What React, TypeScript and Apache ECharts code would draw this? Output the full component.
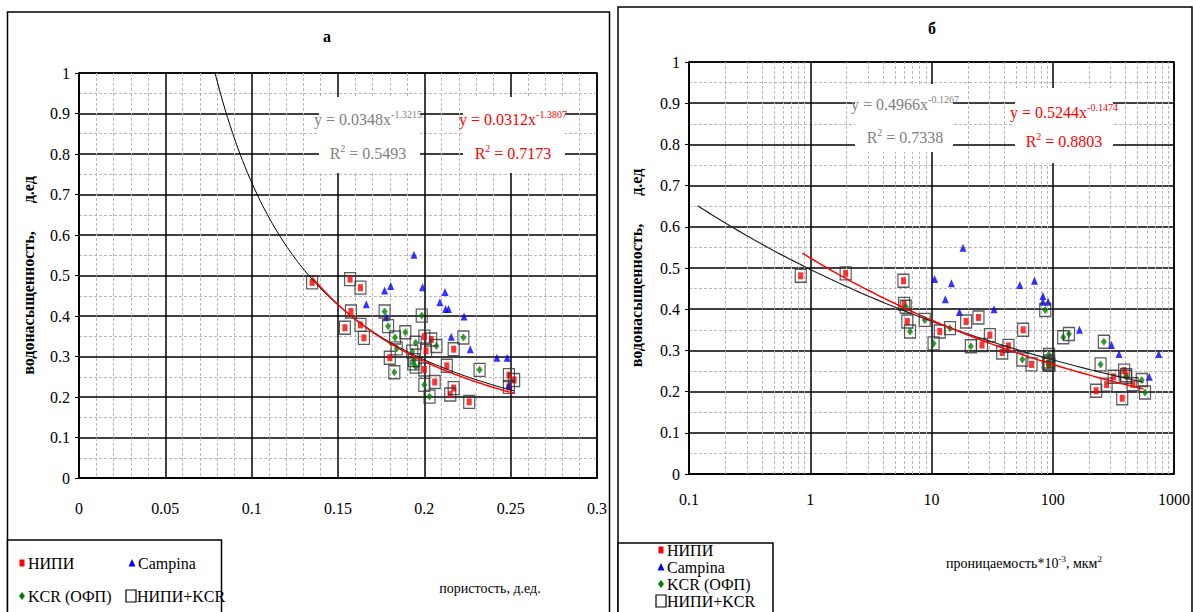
import React, { useEffect, useRef } from "react";
import * as echarts from "echarts";

const FONT = "Liberation Serif";

// ---- Panel "а": porosity (fraction) vs water saturation (fraction)
const nipiA: [number, number][] = [
  [0.135, 0.483], [0.157, 0.491], [0.163, 0.47], [0.1575, 0.411], [0.154, 0.371],
  [0.163, 0.378], [0.165, 0.346], [0.18, 0.297], [0.2, 0.349], [0.204, 0.342],
  [0.201, 0.314], [0.217, 0.318], [0.2, 0.268], [0.213, 0.277], [0.206, 0.237],
  [0.217, 0.222], [0.215, 0.206], [0.226, 0.188], [0.249, 0.254], [0.252, 0.242],
  [0.249, 0.225],
];
const kcrA: [number, number][] = [
  [0.177, 0.411], [0.179, 0.375], [0.189, 0.36], [0.183, 0.347], [0.184, 0.32],
  [0.195, 0.334], [0.1985, 0.401], [0.207, 0.326], [0.2226, 0.347], [0.193, 0.312],
  [0.194, 0.291], [0.195, 0.275], [0.1826, 0.261], [0.2, 0.23], [0.203, 0.201],
  [0.232, 0.267], [0.1936, 0.283],
];
const campinaA: [number, number][] = [
  [0.194, 0.551], [0.177, 0.463], [0.1805, 0.474], [0.1664, 0.429], [0.199, 0.471],
  [0.212, 0.459], [0.209, 0.434], [0.2123, 0.417], [0.214, 0.417], [0.223, 0.399],
  [0.2156, 0.349], [0.2266, 0.318], [0.242, 0.297], [0.248, 0.297], [0.178, 0.397],
  [0.249, 0.23],
];
// trend lines (coefficient a, exponent b, x range) as printed on the chart
const trendAllA = { a: 0.0348, b: -1.3215, from: 0.0788, to: 0.252, r2: "0.5493" };
const trendNkA = { a: 0.0312, b: -1.3807, from: 0.135, to: 0.252, r2: "0.7173" };

// ---- Panel "б": permeability (10^-3 мкм²) vs water saturation (fraction)
const nipiB: [number, number][] = [
  [0.835, 0.481], [1.96, 0.487], [5.87, 0.469], [5.94, 0.413], [6.32, 0.37],
  [19.3, 0.37], [24.4, 0.38], [11.7, 0.346], [30.3, 0.337], [57, 0.35],
  [26.1, 0.313], [43.1, 0.311], [38.3, 0.295], [66.8, 0.266], [92.2, 0.269],
  [228, 0.202], [278, 0.217], [318, 0.236], [388, 0.251], [403, 0.24],
  [456, 0.218], [374, 0.184], [94, 0.265],
];
const kcrB: [number, number][] = [
  [6.13, 0.406], [8.79, 0.374], [6.65, 0.346], [10.4, 0.317], [14.2, 0.354],
  [21.1, 0.31], [56.2, 0.278], [86.7, 0.398], [93.3, 0.289], [92.2, 0.265],
  [122, 0.332], [136, 0.34], [264, 0.321], [248, 0.266], [403, 0.236],
  [542, 0.228], [577, 0.198], [93, 0.273],
];
const campinaB: [number, number][] = [
  [18.2, 0.549], [10.6, 0.473], [14.6, 0.463], [13.0, 0.424], [17.0, 0.393],
  [32.8, 0.4], [53.5, 0.459], [70.7, 0.469], [83, 0.432], [83, 0.418],
  [91.6, 0.418], [166, 0.35], [305, 0.313], [352, 0.291], [748, 0.291],
  [625, 0.236],
];
const trendAllB = { a: 0.4966, b: -0.1267, from: 0.118, to: 560, r2: "0.7338" };
const trendNkB = { a: 0.5244, b: -0.1474, from: 0.86, to: 560, r2: "0.8803" };

const logDecades = [0.1, 1, 10, 100];
const logMultipliers = [2, 3, 4, 5, 6, 7, 8, 9];

const xTicksA = [0, 0.05, 0.1, 0.15, 0.2, 0.25, 0.3];

function powerCurve(t: { a: number; b: number; from: number; to: number }, log: boolean) {
  const n = 120;
  const pts: [number, number][] = [];
  for (let i = 0; i <= n; i++) {
    const x = log
      ? Math.exp(Math.log(t.from) + ((Math.log(t.to) - Math.log(t.from)) * i) / n)
      : t.from + ((t.to - t.from) * i) / n;
    pts.push([x, t.a * Math.pow(x, t.b)]);
  }
  return pts;
}

const gridLine = { show: true, lineStyle: { color: "#000", width: 1.5 } };
const minorLine = { show: true, lineStyle: { color: "#b8b8b8", width: 1, type: [3, 2] as any } };
const axisLbl = { fontFamily: FONT, fontSize: 16, color: "#000" };

function yAxisFor(gridIndex: number, nameGap: number) {
  return {
    gridIndex,
    type: "value",
    min: 0,
    max: 1,
    interval: 0.1,
    axisLine: { show: true, onZero: false, lineStyle: { color: "#000", width: 1.5 } },
    axisTick: { show: true, length: 4, lineStyle: { color: "#000" } },
    axisLabel: { ...axisLbl, margin: 9, formatter: (v: number) => String(+v.toFixed(2)) },
    splitLine: gridLine,
    minorTick: { show: false, splitNumber: 2 },
    minorSplitLine: minorLine,
    name: "водонасыщенность,       д.ед",
    nameLocation: "middle",
    nameGap,
    nameTextStyle: { fontFamily: FONT, fontSize: 16, fontWeight: "bold", color: "#000" },
  };
}

function scatterSeries(name: string, data: [number, number][], idx: number, kind: string) {
  const base: any = { name, type: "scatter", data, xAxisIndex: idx, yAxisIndex: idx, silent: true };
  if (kind === "nipi") return { ...base, symbol: "rect", symbolSize: [5, 7], itemStyle: { color: "#ff0000" }, z: 4 };
  if (kind === "kcr") return { ...base, symbol: "diamond", symbolSize: [6, 8], itemStyle: { color: "#008000" }, z: 4 };
  if (kind === "campina") return { ...base, symbol: "triangle", symbolSize: [7, 8], itemStyle: { color: "#0000ff" }, z: 4 };
  return {
    ...base,
    symbol: "rect",
    symbolSize: [11, 13],
    itemStyle: { color: "rgba(0,0,0,0)", borderColor: "#333", borderWidth: 1.3 },
    z: 5,
  };
}

function trendSeries(name: string, data: [number, number][], idx: number, color: string, width: number) {
  return {
    name,
    type: "line",
    data,
    xAxisIndex: idx,
    yAxisIndex: idx,
    showSymbol: false,
    symbol: "none",
    silent: true,
    clip: true,
    lineStyle: { color, width },
    z: 6,
  };
}

const eqRich = (color: string) => ({
  m: { font: `16px ${FONT}`, fill: color, lineHeight: 18 },
  s: { font: `10px ${FONT}`, fill: color, padding: [0, 0, 9, 0] },
});

function eqLabel(cx: number, y1: number, y2: number, t: { a: number; b: number; r2: string }, color: string, box: number[]) {
  return [
    { type: "rect", z: 20, shape: { x: box[0], y: box[1], width: box[2], height: box[3] }, style: { fill: "#fff" } },
    {
      type: "text", z: 21, x: cx, y: y1,
      style: {
        text: `{m|y = ${t.a.toFixed(4)}x}{s|${t.b.toFixed(4)}}`,
        rich: eqRich(color), fill: color, font: `16px ${FONT}`, align: "center", verticalAlign: "middle",
      },
    },
    {
      type: "text", z: 21, x: cx, y: y2,
      style: {
        text: `{m|R}{s|2}{m| = ${t.r2}}`,
        rich: eqRich(color), fill: color, font: `16px ${FONT}`, align: "center", verticalAlign: "middle",
      },
    },
  ];
}

function legendItems(items: { marker: string; x: number; y: number; label: string }[]) {
  const out: any[] = [];
  for (const it of items) {
    const { x, y } = it;
    if (it.marker === "nipi") out.push({ type: "rect", shape: { x: x - 2.5, y: y - 3.5, width: 5, height: 7 }, style: { fill: "#ff0000" } });
    if (it.marker === "campina") out.push({ type: "polygon", shape: { points: [[x, y - 4], [x + 3.5, y + 3.5], [x - 3.5, y + 3.5]] }, style: { fill: "#0000ff" } });
    if (it.marker === "kcr") out.push({ type: "polygon", shape: { points: [[x, y - 4], [x + 3, y], [x, y + 4], [x - 3, y]] }, style: { fill: "#008000" } });
    if (it.marker === "box") out.push({ type: "rect", shape: { x: x - 5, y: y - 6, width: 10, height: 12 }, style: { fill: "none", stroke: "#000", lineWidth: 1.2 } });
    out.push({
      type: "text", x: x + 6, y,
      style: { text: it.label, font: `16px ${FONT}`, fill: "#000", align: "left", verticalAlign: "middle" },
    });
  }
  return out;
}

const minorLogLines = logDecades.flatMap((d) => logMultipliers.map((m) => ({ xAxis: +(d * m).toPrecision(3) })));

export default function App() {
  const ref = useRef<HTMLDivElement>(null);
  useEffect(() => {
    const chart = echarts.init(ref.current!, null, { renderer: "svg" });
    const nkA = [...nipiA, ...kcrA];
    const nkB = [...nipiB, ...kcrB];
    const option: any = {
      animation: false,
      backgroundColor: "#fff",
      textStyle: { fontFamily: FONT },
      title: [
        { text: "а", left: 318, top: 23, textStyle: { fontFamily: FONT, fontSize: 16, fontWeight: "bold", color: "#000" } },
        { text: "б", left: 923, top: 15, textStyle: { fontFamily: FONT, fontSize: 16, fontWeight: "bold", color: "#000" } },
      ],
      grid: [
        { left: 79, top: 73, width: 518, height: 405, show: true, borderColor: "#000", borderWidth: 1.5, backgroundColor: "#fff" },
        { left: 689, top: 62, width: 496, height: 412, show: true, borderColor: "#000", borderWidth: 1.5, backgroundColor: "#fff" },
      ],
      xAxis: [
        {
          gridIndex: 0,
          type: "value",
          min: xTicksA[0],
          max: xTicksA[xTicksA.length - 1],
          interval: 0.05,
          axisLine: { show: true, onZero: false, lineStyle: { color: "#000", width: 1.5 } },
          axisTick: { show: false },
          axisLabel: { ...axisLbl, margin: 22, formatter: (v: number) => String(+v.toFixed(2)) },
          splitLine: gridLine,
          minorTick: { show: false, splitNumber: 5 },
          minorSplitLine: minorLine,
        },
        {
          gridIndex: 1,
          type: "log",
          logBase: 10,
          min: 0.1,
          max: 1000,
          axisLine: { show: true, onZero: false, lineStyle: { color: "#000", width: 1.5 } },
          axisTick: { show: false },
          axisLabel: { ...axisLbl, margin: 17, formatter: (v: number) => String(+v.toPrecision(3)) },
          splitLine: gridLine,
        },
      ],
      yAxis: [yAxisFor(0, 43), yAxisFor(1, 45)],
      series: [
        scatterSeries("НИПИ", nipiA, 0, "nipi"),
        scatterSeries("Campina", campinaA, 0, "campina"),
        scatterSeries("KCR (ОФП)", kcrA, 0, "kcr"),
        scatterSeries("НИПИ+KCR", nkA, 0, "box"),
        trendSeries("trend all а", powerCurve(trendAllA, false), 0, "#000", 1),
        trendSeries("trend НИПИ+KCR а", powerCurve(trendNkA, false), 0, "#ff0000", 1.5),
        scatterSeries("НИПИ", nipiB, 1, "nipi"),
        {
          ...scatterSeries("Campina", campinaB, 1, "campina"),
          markLine: {
            silent: true,
            z: 1,
            symbol: "none",
            label: { show: false },
            lineStyle: { color: "#b8b8b8", width: 1, type: [3, 2] },
            data: minorLogLines,
          },
        },
        scatterSeries("KCR (ОФП)", kcrB, 1, "kcr"),
        scatterSeries("НИПИ+KCR", nkB, 1, "box"),
        trendSeries("trend all б", powerCurve(trendAllB, true), 1, "#222", 1.2),
        trendSeries("trend НИПИ+KCR б", powerCurve(trendNkB, true), 1, "#ff0000", 1.5),
      ],
      graphic: [
        // panel frames
        { type: "rect", z: 30, shape: { x: 7.5, y: 12, width: 602, height: 610 }, style: { fill: "none", stroke: "#000", lineWidth: 1.5 } },
        { type: "rect", z: 30, shape: { x: 618, y: 7, width: 574, height: 615 }, style: { fill: "none", stroke: "#000", lineWidth: 1.5 } },
        // legend frames
        { type: "rect", z: 30, shape: { x: 7.5, y: 540, width: 214, height: 80 }, style: { fill: "#fff", stroke: "#000", lineWidth: 1.5 } },
        { type: "rect", z: 30, shape: { x: 618, y: 543, width: 155, height: 80 }, style: { fill: "#fff", stroke: "#000", lineWidth: 1.5 } },
        ...legendItems([
          { marker: "nipi", x: 22, y: 563, label: "НИПИ" },
          { marker: "campina", x: 132, y: 563, label: "Campina" },
          { marker: "kcr", x: 22, y: 596, label: "KCR (ОФП)" },
          { marker: "box", x: 131, y: 596, label: "НИПИ+KCR" },
        ]).map((e) => ({ ...e, z: 31 })),
        ...legendItems([
          { marker: "nipi", x: 661, y: 550, label: "НИПИ" },
          { marker: "campina", x: 661, y: 567, label: "Campina" },
          { marker: "kcr", x: 661, y: 584, label: "KCR (ОФП)" },
          { marker: "box", x: 661, y: 601, label: "НИПИ+KCR" },
        ]).map((e) => ({ ...e, z: 31 })),
        // axis titles
        {
          type: "text", z: 21, x: 490, y: 588,
          style: { text: "пористость, д.ед.", font: `14px ${FONT}`, fill: "#000", align: "center", verticalAlign: "middle" },
        },
        {
          type: "text", z: 21, x: 1024, y: 563,
          style: {
            text: "{m|проницаемость*10}{s|-3}{m|, мкм}{s|2}",
            font: `14px ${FONT}`,
            rich: {
              m: { font: `14px ${FONT}`, fill: "#000", lineHeight: 16 },
              s: { font: `9px ${FONT}`, fill: "#000", padding: [0, 0, 8, 0] },
            },
            align: "center", verticalAlign: "middle",
          },
        },
        // trend equations
        ...eqLabel(368, 119, 153, trendAllA, "#808080", [319, 97, 101, 76]),
        ...eqLabel(513, 119, 153, trendNkA, "#ff0000", [463, 97, 102, 76]),
        ...eqLabel(905, 104, 137, trendAllB, "#808080", [855, 84, 98, 68]),
        ...eqLabel(1064, 112, 141, trendNkB, "#ff0000", [1015, 88, 98, 75]),
      ],
    };
    chart.setOption(option);
    return () => chart.dispose();
  }, []);
  return <div ref={ref} style={{ position: "absolute", left: 0, top: 0, width: 1193, height: 612 }} />;
}
